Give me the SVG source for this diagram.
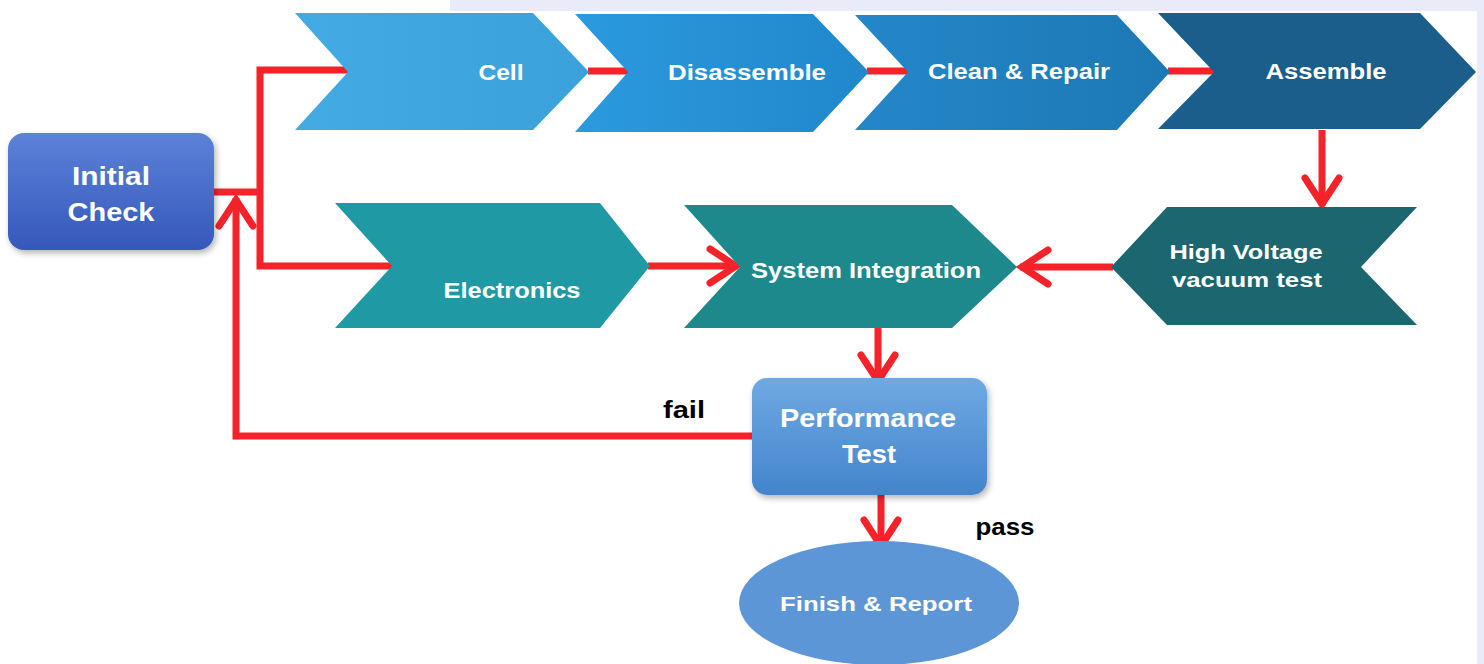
<svg xmlns="http://www.w3.org/2000/svg" width="1484" height="664" viewBox="0 0 1484 664">
  <defs>
    <style>
      .lbl{font-family:"Liberation Sans",Arial,sans-serif;font-weight:bold;fill:#ffffff;text-anchor:middle;}
      .blk{font-family:"Liberation Sans",Arial,sans-serif;font-weight:bold;fill:#000000;text-anchor:middle;}
      .wire{fill:none;stroke:#f5222a;stroke-width:7;stroke-linejoin:miter;}
      .arr{fill:none;stroke:#f5222a;stroke-width:7;marker-end:url(#head);}
    </style>
    <marker id="head" markerUnits="userSpaceOnUse" viewBox="-34 -22 40 44" markerWidth="40" markerHeight="44" refX="0" refY="0" orient="auto">
      <path d="M-28,-17 L-2,0 L-28,17" fill="none" stroke="#f5222a" stroke-width="7" stroke-linecap="round" stroke-linejoin="miter"/>
    </marker>
    <linearGradient id="gInit" x1="0" y1="0" x2="0" y2="1">
      <stop offset="0" stop-color="#5c82d8"/>
      <stop offset="1" stop-color="#3558bb"/>
    </linearGradient>
    <linearGradient id="gPerf" x1="0" y1="0" x2="0" y2="1">
      <stop offset="0" stop-color="#6fa9e2"/>
      <stop offset="1" stop-color="#4484cc"/>
    </linearGradient>
    <linearGradient id="gCell" x1="0" y1="0" x2="1" y2="0">
      <stop offset="0" stop-color="#44aae2"/>
      <stop offset="1" stop-color="#3aa1db"/>
    </linearGradient>
    <linearGradient id="gDis" x1="0" y1="0" x2="1" y2="0">
      <stop offset="0" stop-color="#2b9ade"/>
      <stop offset="1" stop-color="#2087cb"/>
    </linearGradient>
    <linearGradient id="gClean" x1="0" y1="0" x2="1" y2="0">
      <stop offset="0" stop-color="#2487c9"/>
      <stop offset="1" stop-color="#1d78b5"/>
    </linearGradient>
    <filter id="shadow" x="-10%" y="-10%" width="125%" height="130%">
      <feDropShadow dx="2" dy="3" stdDeviation="3" flood-color="#000000" flood-opacity="0.3"/>
    </filter>
  </defs>

  <rect x="0" y="0" width="1484" height="664" fill="#ffffff"/>
  <rect x="450" y="0" width="1034" height="11" fill="#e9ecf8"/>
  <rect x="1477" y="0" width="7" height="664" fill="#e9ecf8"/>

  <g id="connectors">
    <polyline class="wire" points="214,192 260,192"/>
    <polyline class="wire" points="352,70 260,70 260,266 394,266"/>
    <line class="wire" x1="588" y1="71" x2="630" y2="71"/>
    <line class="wire" x1="867" y1="71" x2="910" y2="71"/>
    <line class="wire" x1="1168" y1="71" x2="1216" y2="71"/>
    <line class="arr" x1="1322" y1="130" x2="1322" y2="206"/>
    <line class="arr" x1="1113" y1="267" x2="1020" y2="267"/>
    <line class="arr" x1="648" y1="266" x2="738" y2="266"/>
    <line class="arr" x1="878" y1="328" x2="878" y2="383"/>
    <line class="arr" x1="881" y1="494" x2="881" y2="548"/>
    <polyline class="arr" points="752,436 236,436 236,198"/>
  </g>

  <g id="initial-check">
    <rect x="8" y="133" width="206" height="117" rx="16" fill="url(#gInit)" filter="url(#shadow)"/>
    <text class="lbl" x="111" y="185" font-size="26" textLength="78" lengthAdjust="spacingAndGlyphs">Initial</text>
    <text class="lbl" x="111" y="221" font-size="26" textLength="87" lengthAdjust="spacingAndGlyphs">Check</text>
  </g>

  <g id="cell">
    <polygon points="295,13 533,13 589,72 533,130 295,130 348,72" fill="url(#gCell)"/>
    <text class="lbl" x="501" y="80" font-size="22" textLength="45" lengthAdjust="spacingAndGlyphs">Cell</text>
  </g>

  <g id="disassemble">
    <polygon points="575,14 813,14 869,72 813,132 575,132 628,72" fill="url(#gDis)"/>
    <text class="lbl" x="747" y="80" font-size="22" textLength="158" lengthAdjust="spacingAndGlyphs">Disassemble</text>
  </g>

  <g id="clean-repair">
    <polygon points="855,15 1117,15 1170,72 1117,130 855,130 908,72" fill="url(#gClean)"/>
    <text class="lbl" x="1019" y="79" font-size="22" textLength="182" lengthAdjust="spacingAndGlyphs">Clean &amp; Repair</text>
  </g>

  <g id="assemble">
    <polygon points="1158,13 1420,13 1476,72 1420,129 1158,129 1214,72" fill="#1b5e8b"/>
    <text class="lbl" x="1326" y="79" font-size="22" textLength="121" lengthAdjust="spacingAndGlyphs">Assemble</text>
  </g>

  <g id="electronics">
    <polygon points="335,203 600,203 650,266 600,328 335,328 392,266" fill="#1f9aa5"/>
    <text class="lbl" x="512" y="298" font-size="22" textLength="137" lengthAdjust="spacingAndGlyphs">Electronics</text>
  </g>

  <g id="system-integration">
    <polygon points="684,205 952,205 1017,267 952,328 684,328 740,267" fill="#1e898c"/>
    <text class="lbl" x="866" y="278" font-size="22" textLength="230" lengthAdjust="spacingAndGlyphs">System Integration</text>
  </g>

  <g id="high-voltage">
    <polygon points="1111,267 1167,207 1417,207 1361,267 1417,325 1167,325" fill="#1c6670"/>
    <text class="lbl" x="1246" y="259" font-size="21" textLength="153" lengthAdjust="spacingAndGlyphs">High  Voltage</text>
    <text class="lbl" x="1247" y="287" font-size="21" textLength="150" lengthAdjust="spacingAndGlyphs">vacuum test</text>
  </g>

  <g id="performance-test">
    <rect x="752" y="378" width="235" height="117" rx="15" fill="url(#gPerf)" filter="url(#shadow)"/>
    <text class="lbl" x="868" y="427" font-size="25" textLength="176" lengthAdjust="spacingAndGlyphs">Performance</text>
    <text class="lbl" x="869" y="463" font-size="25" textLength="54" lengthAdjust="spacingAndGlyphs">Test</text>
  </g>

  <g id="finish-report">
    <ellipse cx="879" cy="603" rx="140" ry="62" fill="#5d96d6"/>
    <text class="lbl" x="876" y="611" font-size="21" textLength="192" lengthAdjust="spacingAndGlyphs">Finish &amp; Report</text>
  </g>

  <g id="labels">
    <text class="blk" x="684" y="418" font-size="23" textLength="42" lengthAdjust="spacingAndGlyphs">fail</text>
    <text class="blk" x="1005" y="535" font-size="23" textLength="59" lengthAdjust="spacingAndGlyphs">pass</text>
  </g>
</svg>
